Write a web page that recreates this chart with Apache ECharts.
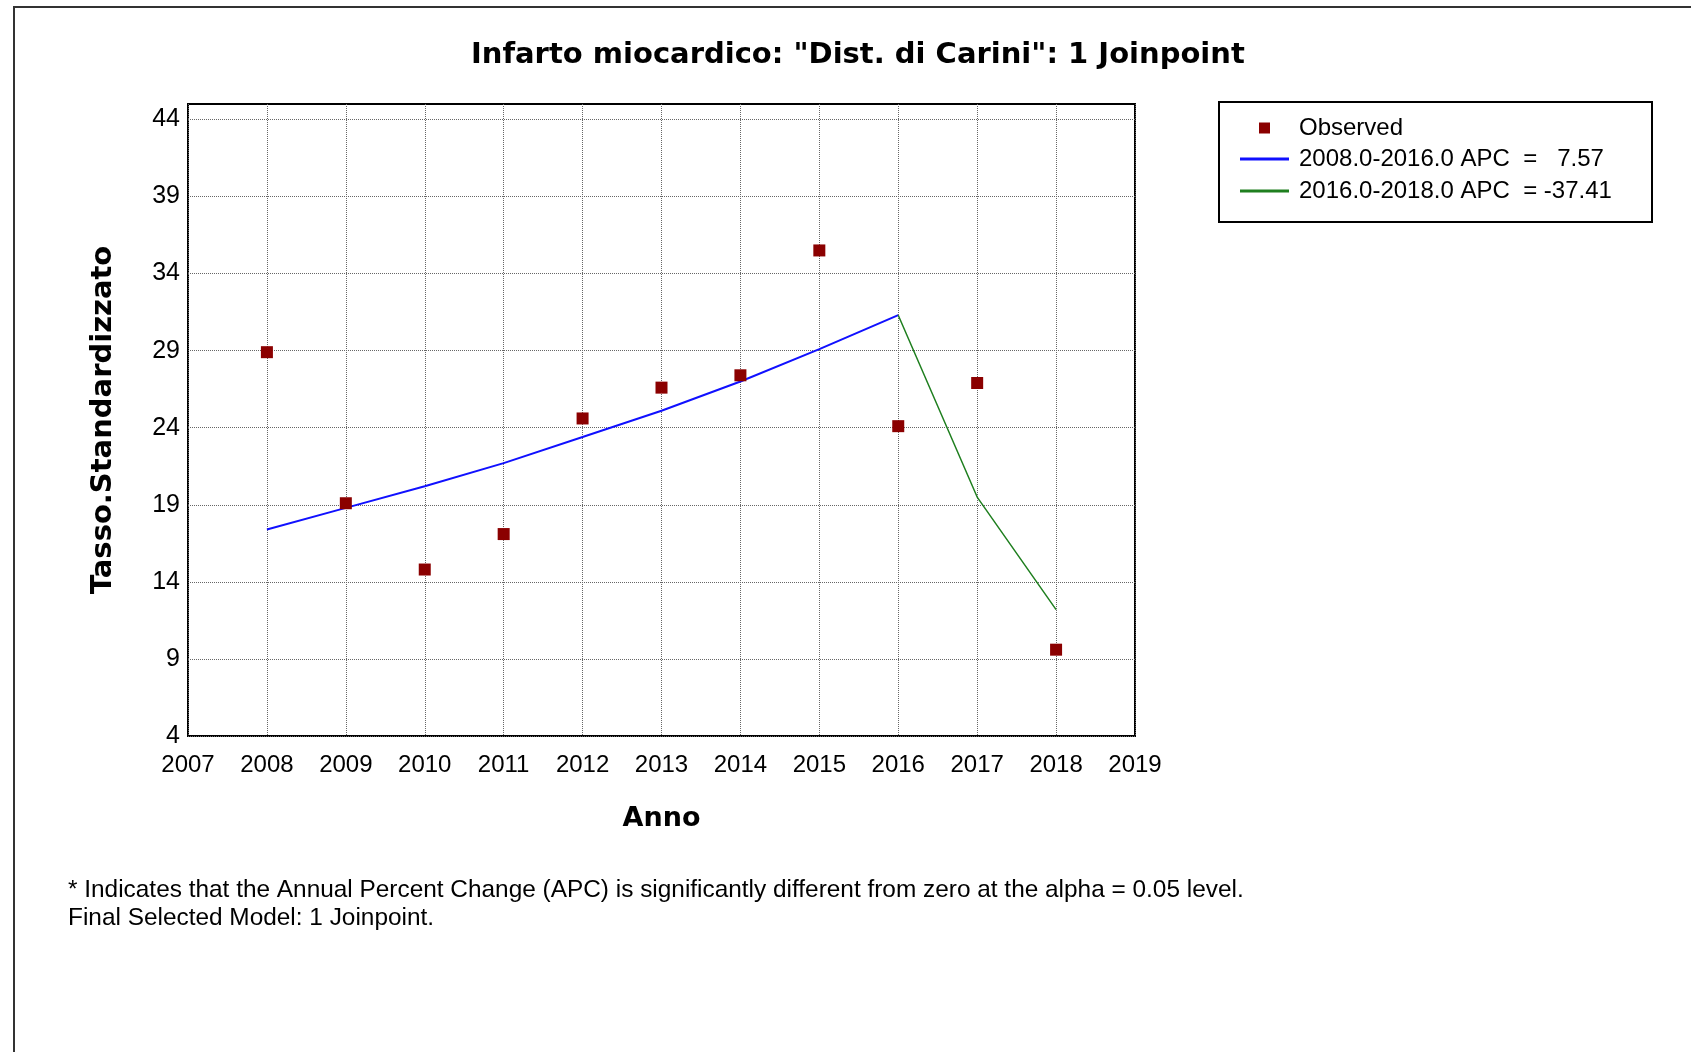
<!DOCTYPE html>
<html>
<head>
<meta charset="utf-8">
<title>Infarto miocardico - Dist. di Carini</title>
<script src="https://cdn.jsdelivr.net/npm/echarts@6/dist/echarts.min.js"></script>
<style>
    html, body { margin: 0; padding: 0; background: #fff; }
    #chart { width: 1691px; height: 1052px; }
</style>
</head>
<body>
<div id="chart"></div>
<script>
// values
const years = [2008, 2009, 2010, 2011, 2012, 2013, 2014, 2015, 2016, 2017, 2018]
const observed = [28.9, 19.1, 14.8, 17.1, 24.6, 26.6, 27.4, 35.5, 24.1, 26.9, 9.6]

const fitYears1 = [2008, 2009, 2010, 2011, 2012, 2013, 2014, 2015, 2016]
const fit1 = [17.4, 18.8, 20.2, 21.7, 23.4, 25.1, 27.0, 29.1, 31.3]

const fitYears2 = [2016, 2017, 2018]
const fit2 = [31.3, 19.5, 12.2]

const yTicks = [4, 9, 14, 19, 24, 29, 34, 39, 44]

const seriesNames = ['Observed', '2008.0-2016.0 APC  =   7.57', '2016.0-2018.0 APC  = -37.41']
const footnotes = [
    '* Indicates that the Annual Percent Change (APC) is significantly different from zero at the alpha = 0.05 level.',
    'Final Selected Model: 1 Joinpoint.'
]

const pair = (xs, ys) => xs.map((x, i) => [x, ys[i]])

const plainFont = "'Liberation Sans', Arial, sans-serif"
const boldFont = "'DejaVu Sans', Verdana, sans-serif"

const chart = echarts.init(document.getElementById('chart'))

const option = {
    backgroundColor: '#fff',
    animation: false,
    title: {
        text: 'Infarto miocardico: "Dist. di Carini": 1 Joinpoint',
        left: 466,
        top: 36,
        padding: 5,
        textStyle: {
            fontFamily: boldFont,
            fontWeight: 'bold',
            fontSize: 29,
            color: '#000'
        }
    },
    legend: [{
        // the observed marker sits a little higher than its text
        data: [{ name: seriesNames[0], icon: 'rect' }],
        orient: 'vertical',
        left: 1259,
        top: 110,
        padding: 0,
        itemWidth: 11,
        itemHeight: 11,
        textStyle: {
            fontFamily: plainFont,
            fontSize: 24,
            lineHeight: 24,
            color: '#000',
            padding: [12, 0, 0, 24]
        }
    }, {
        data: [
            { name: seriesNames[1], icon: 'rect' },
            { name: seriesNames[2], icon: 'rect' }
        ],
        orient: 'vertical',
        left: 1240,
        top: 147,
        padding: 0,
        itemGap: 8,
        itemWidth: 49,
        itemHeight: 3,
        textStyle: {
            fontFamily: plainFont,
            fontSize: 24,
            lineHeight: 24,
            color: '#000',
            padding: [0, 0, 0, 5]
        }
    }],
    grid: {
        left: 188,
        right: 556,
        top: 104,
        bottom: 316,
        show: true,
        borderColor: '#000',
        borderWidth: 2,
        containLabel: false
    },
    xAxis: {
        type: 'value',
        min: 2007,
        max: 2019,
        interval: 1,
        name: 'Anno',
        nameLocation: 'middle',
        nameGap: 69,
        nameTextStyle: {
            fontFamily: boldFont,
            fontWeight: 'bold',
            fontSize: 27,
            color: '#000'
        },
        axisLine: { show: false },
        axisTick: { show: false },
        axisLabel: {
            margin: 17,
            fontFamily: plainFont,
            fontSize: 24,
            color: '#000',
            formatter: v => String(v)
        },
        splitLine: {
            show: true,
            lineStyle: { color: '#666', type: 'dotted', width: 1 }
        }
    },
    yAxis: {
        type: 'value',
        min: 4,
        max: 45,
        name: 'Tasso.Standardizzato',
        nameLocation: 'middle',
        nameGap: 70,
        nameTextStyle: {
            fontFamily: boldFont,
            fontWeight: 'bold',
            fontSize: 29,
            color: '#000'
        },
        axisLine: { show: false },
        axisTick: { show: false, customValues: yTicks },
        axisLabel: {
            margin: 8,
            fontFamily: plainFont,
            fontSize: 25,
            color: '#000',
            customValues: yTicks
        },
        splitLine: {
            show: true,
            lineStyle: { color: '#666', type: 'dotted', width: 1 }
        }
    },
    graphic: [{
        // outer frame of the exported picture
        type: 'rect',
        shape: { x: 14, y: 7, width: 1720, height: 1100 },
        style: { fill: 'none', stroke: '#333', lineWidth: 2 },
        silent: true
    }, {
        type: 'rect',
        shape: { x: 1219, y: 102, width: 433, height: 120 },
        style: { fill: 'none', stroke: '#000', lineWidth: 2 },
        silent: true
    }, {
        type: 'text',
        x: 68,
        y: 890,
        style: {
            text: footnotes[0],
            font: "24.4px 'Liberation Sans', Arial, sans-serif",
            fill: '#000',
            verticalAlign: 'middle'
        }
    }, {
        type: 'text',
        x: 68,
        y: 918,
        style: {
            text: footnotes[1],
            font: "24.4px 'Liberation Sans', Arial, sans-serif",
            fill: '#000',
            verticalAlign: 'middle'
        }
    }],
    series: [{
        name: seriesNames[0],
        type: 'scatter',
        symbol: 'rect',
        symbolSize: 12,
        itemStyle: { color: '#8b0000', opacity: 1 },
        data: pair(years, observed),
        z: 5
    }, {
        name: seriesNames[1],
        type: 'line',
        showSymbol: false,
        symbol: 'none',
        lineStyle: { color: '#1010ff', width: 2 },
        itemStyle: { color: '#1010ff' },
        data: pair(fitYears1, fit1)
    }, {
        name: seriesNames[2],
        type: 'line',
        showSymbol: false,
        symbol: 'none',
        lineStyle: { color: '#1f7f1f', width: 1.5 },
        itemStyle: { color: '#1f7f1f' },
        data: pair(fitYears2, fit2)
    }]
}

if (option && typeof option === 'object') {
    chart.setOption(option, true)
}
</script>
</body>
</html>
